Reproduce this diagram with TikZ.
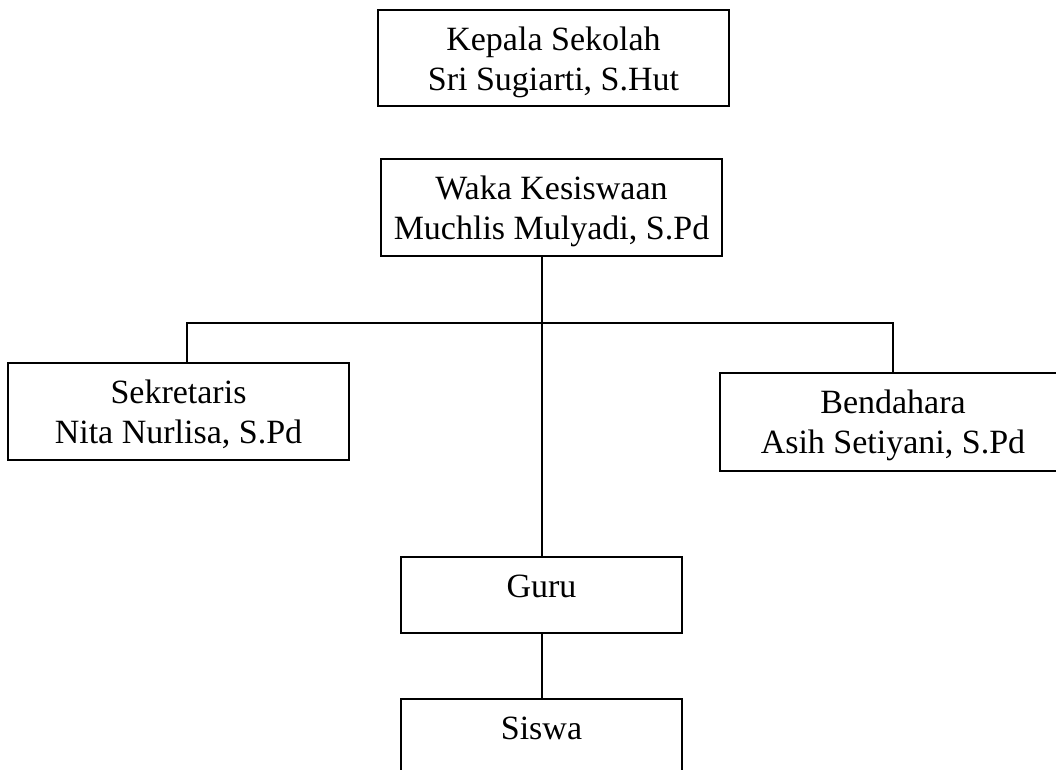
\documentclass[tikz,border=0pt]{standalone}
\usepackage{fontspec}
\setmainfont{Liberation Serif}
\usetikzlibrary{positioning}
\newdimen\pxu \pxu=0.75pt
% text box: width, height (px), lines from the top
\newcommand{\orgtext}[3]{\parbox[c][#2\pxu][t]{#1\pxu}{\centering\rule{0pt}{40\pxu}#3}}
\tikzset{
    orgbox/.style={draw, line width=1.5pt, inner sep=0pt,
      font=\fontsize{25.5}{30}\selectfont},
    link/.style={line width=1.5pt}
}

\begin{document}
\begin{tikzpicture}[x=0.75pt, y=-0.75pt]
  \useasboundingbox (0,0) rectangle (1056,769);
  \clip (0,0) rectangle (1056,769);

  % boxes
  \node[orgbox] (kepala)     at (553.5,58)    {\orgtext{351}{96}{Kepala Sekolah\\Sri Sugiarti, S.Hut}};
  \node[orgbox] (waka)       at (551.5,207.5) {\orgtext{341}{97}{Waka Kesiswaan\\Muchlis Mulyadi, S.Pd}};
  \node[orgbox] (sekretaris) at (178.5,411.5) {\orgtext{341}{97}{Sekretaris\\Nita Nurlisa, S.Pd}};
  \node[orgbox] (bendahara)  at (893,422)     {\orgtext{346}{98}{Bendahara\\Asih Setiyani, S.Pd}};
  \node[orgbox] (guru)       at (541.5,595)   {\orgtext{281}{76}{Guru}};
  \node[orgbox] (siswa)      at (541.5,744)   {\orgtext{281}{90}{Siswa}};

  % lines
  \coordinate (bar) at (0,323);
  \draw[link] (guru.north |- waka.south) -- (guru.north);
  \draw[link] ([xshift=6.4pt]sekretaris.north) |- (bar -| bendahara.north) -- (bendahara.north);
  \draw[link] (guru.south) -- (siswa.north);
\end{tikzpicture}
\end{document}
